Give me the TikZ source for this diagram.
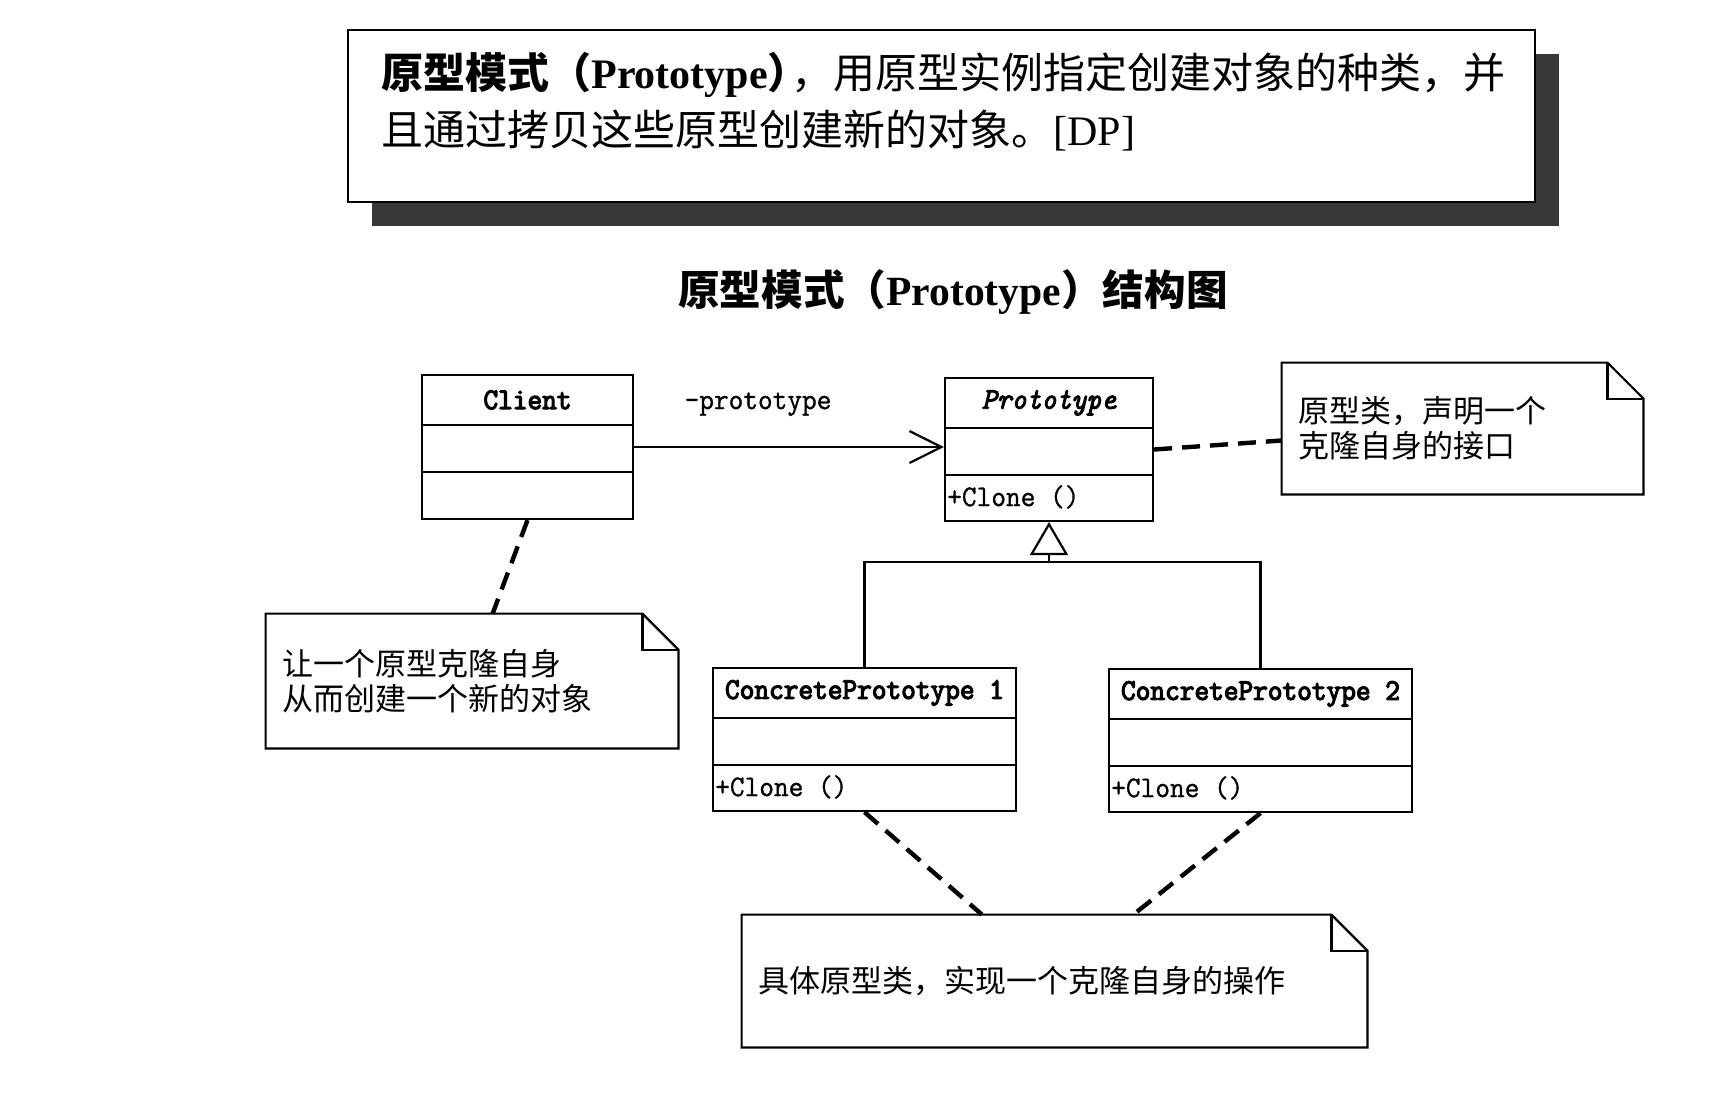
\documentclass[tikz,border=0pt]{standalone}
\usepackage{fontspec}
\setmainfont{Liberation Serif}
\setmonofont{Latin Modern Mono}[FakeStretch=0.95, FakeBold=1, BoldFont={Latin Modern Mono}, BoldFeatures={FakeBold=4}, ItalicFeatures={FakeBold=3}]
\newfontfamily\cjk{Noto Sans CJK SC}
\usetikzlibrary{calc,arrows.meta,shadows}

\tikzset{
	box/.style={draw, line width=1.1pt, inner sep=0pt},
	umltext/.style={font=\ttfamily\fontsize{15}{17}\selectfont, inner sep=0pt},
	notetext/.style={font=\cjk\fontsize{15.5}{17.5}\selectfont, align=left, inner sep=0pt},
	dashlink/.style={line width=2.2pt, dash pattern=on 9pt off 5pt},
}
\def\umlclass(#1)(#2,#3)(#4:#5)#6#7{%
	\node[box, minimum width=#4, minimum height=#5] (#1) at (#2, #3) {};
	\node[umltext] (#1-name) at ($(#1.north)+(0,26)$) {#6};
	\draw[line width=1.1pt] ($(#1.north west)+(0,51)$) -- ($(#1.north east)+(0,51)$);
	\draw[line width=1.1pt] ($(#1.north west)+(0,98)$) -- ($(#1.north east)+(0,98)$);
	\node[umltext, anchor=west] (#1-ops) at ($(#1.north west)+(3,120)$) {#7};
}
\def\umlnote(#1)(#2,#3)(#4:#5)#6{%
	\node[minimum width=#4, minimum height=#5, inner sep=0pt] (#1) at (#2, #3) {};
	\draw[line width=1.1pt] (#1.south west) -- (#1.north west) -- ($(#1.north east)+(-36,0)$) -- ($(#1.north east)+(0,36)$) -- (#1.south east) -- cycle;
	\draw[line width=1.1pt] ($(#1.north east)+(-36,0)$) -- ($(#1.north east)+(-36,36)$) -- ($(#1.north east)+(0,36)$);
	\node[notetext, anchor=west] (#1-text) at ($(#1.west)+(16,0)$) {#6};
}

\begin{document}
\begin{tikzpicture}[x=0.5pt, y=-0.5pt]
		%%%%% START %%%%%
		
		\fill[white] (0, 0) rectangle (1728, 1114);
		\useasboundingbox (0, 0) rectangle (1728, 1114);
		
		\node[draw, line width=1.4pt, fill=white, minimum width=593.5pt, minimum height=86pt, drop shadow={shadow xshift=12pt, shadow yshift=-12pt, fill=black!78, opacity=1}] (def) at (941.5, 116) {};
		\node[anchor=west, align=left, inner sep=0pt, font=\fontsize{21}{28.5}\selectfont] (deftext) at (381, 101.5) {{\cjk\bfseries 原型模式（}\textbf{Prototype}{\cjk\bfseries ）}\kern-0.45em{\cjk ，用原型实例指定创建对象的种类，并}\\{\cjk 且通过拷贝这些原型创建新的对象。}[DP]};
		
		\node[inner sep=0pt, font=\fontsize{20.8}{24}\selectfont\bfseries] (title) at (953, 292) {{\cjk 原型模式（}Prototype{\cjk ）结构图}};
		
		\umlclass(client)(527.5,447)(105.5pt:72pt){\bfseries Client}{}
		\umlclass(proto)(1049,449.5)(104pt:71.5pt){\itshape Prototype}{+Clone ()}
		\umlclass(cpa)(864.5,739.5)(151.5pt:71.5pt){\bfseries ConcretePrototype 1}{+Clone ()}
		\umlclass(cpb)(1260.5,740.5)(151.5pt:71.5pt){\bfseries ConcretePrototype 2}{+Clone ()}
		
		\umlnote(rnote)(1462.5,428.5)(180.5pt:65.5pt){原型类，声明一个\\克隆自身的接口}
		\umlnote(lnote)(472,681)(206pt:67pt){让一个原型克隆自身\\从而创建一个新的对象}
		\umlnote(bnote)(1054.5,981)(312.5pt:66pt){具体原型类，实现一个克隆自身的操作}
		
		% association
		\draw[line width=1.1pt, -{Straight Barb[length=16pt, width=16pt, line width=1.1pt]}] (client.east) -- node[umltext, pos=0.4, above=15pt] (role) {-prototype} (client.east -| proto.west);
		
		% generalization
		\coordinate (fork) at (proto.south |- 0,562);
		\draw[line width=1.1pt] (cpa.north) |- (fork) -| (cpb.north);
		\draw[line width=1.1pt, -{Triangle[open, length=16.5pt, width=19pt, line width=1.1pt]}] (fork) -- (proto.south);
		
		% note links
		\draw[dashlink] (client.south) -- ($(lnote.north west)!0.55!(lnote.north east)$);
		\draw[dashlink] (proto.east) -- ([yshift=-6pt]rnote.west);
		\draw[dashlink] (cpa.south) -- ($(bnote.north west)!0.384!(bnote.north east)$);
		\draw[dashlink] (cpb.south) -- ($(bnote.north west)!0.626!(bnote.north east)$);
		
		%%%%% END %%%%%
	\end{tikzpicture}
\end{document}
